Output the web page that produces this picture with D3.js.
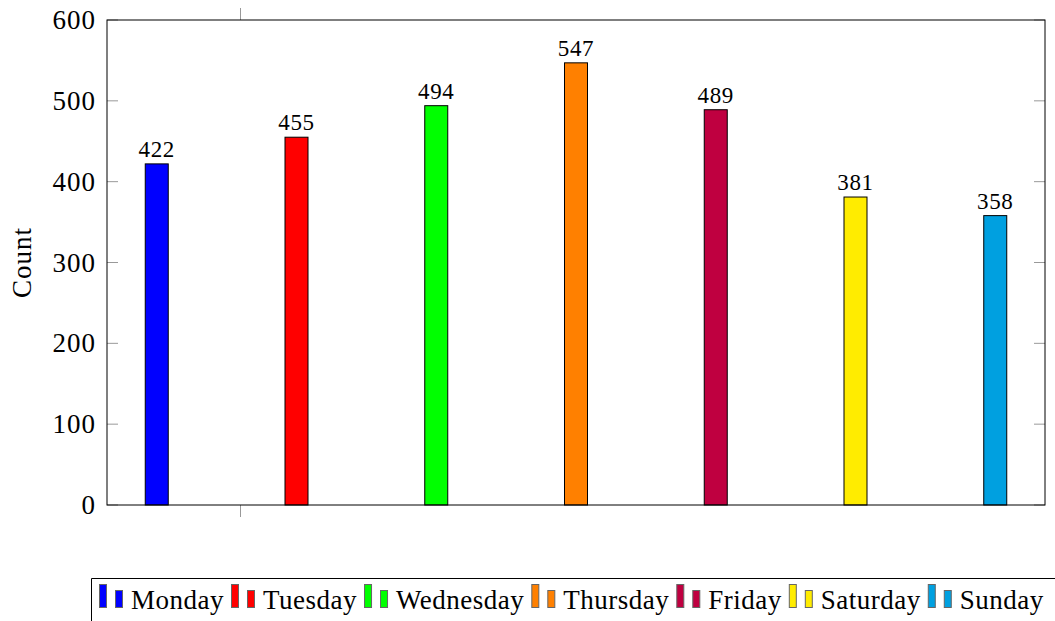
<!DOCTYPE html>
<html>
<head>
<meta charset="utf-8">
<script src="https://cdn.jsdelivr.net/npm/d3@7"></script>
<style>
  html, body { margin: 0; padding: 0; background: #fff; }
  svg { display: block; }
  svg text { font-family: "Liberation Serif", "DejaVu Serif", "Times New Roman", Times, serif; }
</style>
</head>
<body>
<svg id="chart" width="1055" height="621"></svg>
<script>
// Weekly counts, one bar per day
const days = ["Monday", "Tuesday", "Wednesday", "Thursday", "Friday", "Saturday", "Sunday"];
const counts = [422, 455, 494, 547, 489, 381, 358];
const dayColors = ["#0000ff", "#ff0000", "#00ff00", "#ff8000", "#bf0040", "#ffec00", "#00a0e0"];
const yTicks = [0, 100, 200, 300, 400, 500, 600];
const yLabel = "Count";

const FONT = '"Liberation Serif", "DejaVu Serif", "Times New Roman", Times, serif';
const svg = d3.select("#chart").attr("font-family", FONT);
const plot = { left: 107, right: 1045, top: 20, bottom: 505 };

const x = d3.scalePoint().domain(days).range([plot.left, plot.right]).padding(0.356);
const y = d3.scaleLinear().domain([0, 600]).range([plot.bottom, plot.top]);
const color = d3.scaleOrdinal().domain(days).range(dayColors);
const barW = 23;

// tick marks (grey, inward on the sides)
const tickLen = 11;
const g = svg.append("g");
g.selectAll("line.yl").data(yTicks).join("line")
  .attr("x1", plot.left).attr("x2", plot.left + tickLen)
  .attr("y1", d => y(d)).attr("y2", d => y(d))
  .attr("stroke", "#999").attr("stroke-width", 1);
g.selectAll("line.yr").data(yTicks).join("line")
  .attr("x1", plot.right - tickLen).attr("x2", plot.right)
  .attr("y1", d => y(d)).attr("y2", d => y(d))
  .attr("stroke", "#999").attr("stroke-width", 1);
// single x tick at top and bottom
const xTickPos = 240.5;
g.append("line").attr("x1", xTickPos).attr("x2", xTickPos)
  .attr("y1", plot.top - 12).attr("y2", plot.top).attr("stroke", "#999");
g.append("line").attr("x1", xTickPos).attr("x2", xTickPos)
  .attr("y1", plot.bottom).attr("y2", plot.bottom + 12).attr("stroke", "#999");

// y tick labels
g.selectAll("text.yt").data(yTicks).join("text")
  .attr("font-family", FONT)
  .attr("x", plot.left - 11).attr("y", d => y(d) + 9)
  .attr("text-anchor", "end")
  .attr("font-size", 27)
  .attr("letter-spacing", 1)
  .text(d => d);

// bars
svg.append("g").selectAll("rect").data(days).join("rect")
  .attr("x", d => x(d) - barW / 2)
  .attr("width", barW)
  .attr("y", (d, i) => y(counts[i]))
  .attr("height", (d, i) => y(0) - y(counts[i]))
  .attr("fill", d => color(d))
  .attr("stroke", "#000").attr("stroke-width", 1);

// value labels
svg.append("g").selectAll("text").data(days).join("text")
  .attr("font-family", FONT)
  .attr("x", d => x(d))
  .attr("y", (d, i) => y(counts[i]) - 7)
  .attr("text-anchor", "middle")
  .attr("font-size", 23)
  .attr("letter-spacing", 0.6)
  .text((d, i) => counts[i]);

// frame
svg.append("rect")
  .attr("x", plot.left).attr("y", plot.top)
  .attr("width", plot.right - plot.left).attr("height", plot.bottom - plot.top)
  .attr("fill", "none").attr("stroke", "#000").attr("stroke-width", 1);

// y axis title
svg.append("text")
  .attr("font-family", FONT)
  .attr("transform", `translate(31,${(plot.top + plot.bottom) / 2}) rotate(-90)`)
  .attr("text-anchor", "middle")
  .attr("font-size", 27)
  .attr("letter-spacing", 1)
  .text(yLabel);

// legend
const legend = svg.append("g");
legend.append("path")
  .attr("d", "M91.5,621 V578.5 H1055")
  .attr("fill", "none").attr("stroke", "#000").attr("stroke-width", 1);
let lx = 99;
days.forEach((d, i) => {
  legend.append("rect").attr("x", lx + 0.5).attr("y", 584.5).attr("width", 7).attr("height", 23)
    .attr("fill", color(d)).attr("stroke", "#666").attr("stroke-width", 1);
  legend.append("rect").attr("x", lx + 16.5).attr("y", 590.5).attr("width", 7).attr("height", 17)
    .attr("fill", color(d)).attr("stroke", "#666").attr("stroke-width", 1);
  const t = legend.append("text").attr("font-family", FONT)
    .attr("x", lx + 32).attr("y", 609)
    .attr("font-size", 27).attr("letter-spacing", 0.5).text(d);
  lx += 32 + t.node().getComputedTextLength() + 7;
});
</script>
</body>
</html>
